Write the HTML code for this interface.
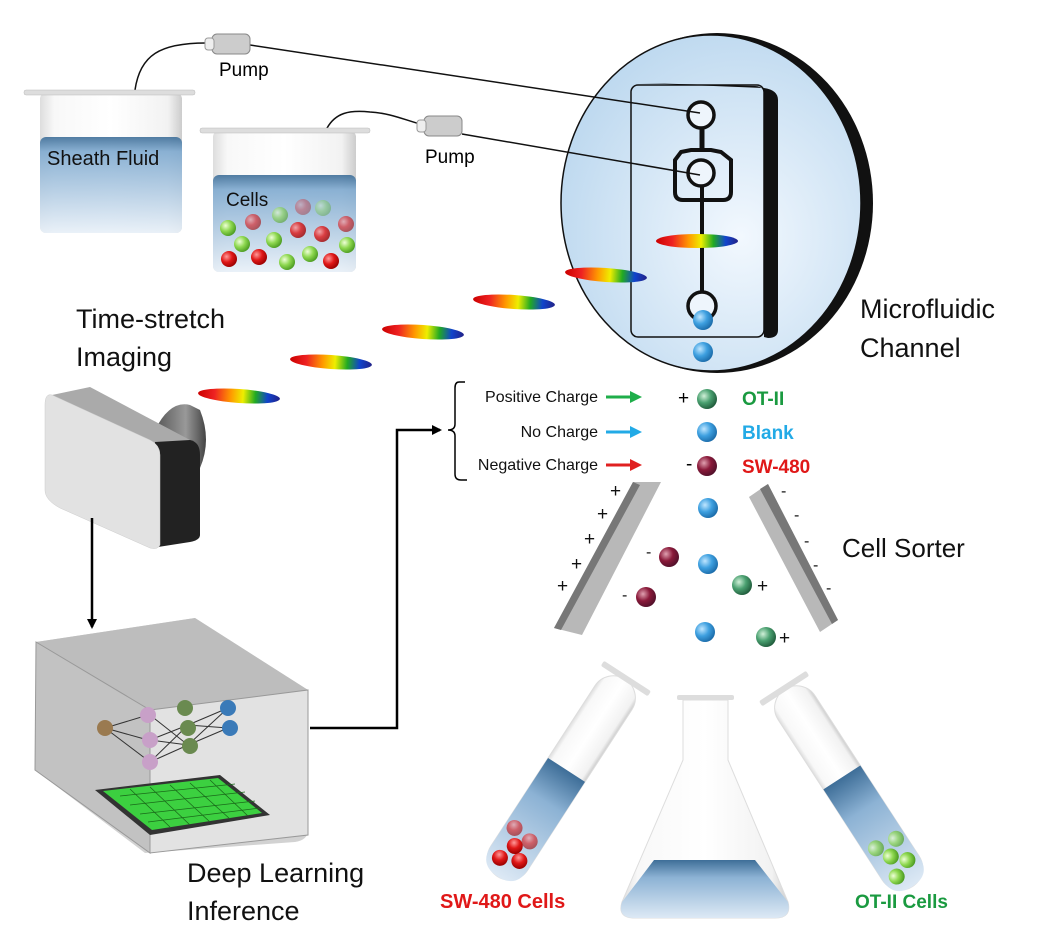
<!DOCTYPE html>
<html><head><meta charset="utf-8"><style>
html,body{margin:0;padding:0;background:#fff;}
svg{display:block;font-family:"Liberation Sans",sans-serif;}
</style></head><body>
<svg width="1058" height="950" viewBox="0 0 1058 950" xmlns="http://www.w3.org/2000/svg">
<defs>
<linearGradient id="liq" x1="0" y1="0" x2="0" y2="1"><stop offset="0" stop-color="#3e6e98"/><stop offset="0.15" stop-color="#7ea9cf"/><stop offset="1" stop-color="#e8f0f8"/></linearGradient>
<linearGradient id="glass" x1="0" y1="0" x2="1" y2="0"><stop offset="0" stop-color="#ddd"/><stop offset="0.1" stop-color="#f8f8f8"/><stop offset="0.5" stop-color="#fff"/><stop offset="0.9" stop-color="#f2f2f2"/><stop offset="1" stop-color="#ccc"/></linearGradient>
<linearGradient id="rain" x1="0" y1="0" x2="1" y2="0"><stop offset="0" stop-color="#c00"/><stop offset="0.2" stop-color="#e22"/><stop offset="0.4" stop-color="#f90"/><stop offset="0.55" stop-color="#ee0"/><stop offset="0.7" stop-color="#2a2"/><stop offset="0.85" stop-color="#14c"/><stop offset="1" stop-color="#228"/></linearGradient>
<radialGradient id="circ" cx="0.6" cy="0.6" r="0.7"><stop offset="0" stop-color="#f2f8fe"/><stop offset="1" stop-color="#b9d6ee"/></radialGradient>
<radialGradient id="bb" cx="0.35" cy="0.35" r="0.7"><stop offset="0" stop-color="#bfe6ff"/><stop offset="0.5" stop-color="#3ea0e0"/><stop offset="1" stop-color="#1a6aa8"/></radialGradient>
<radialGradient id="rb" cx="0.35" cy="0.35" r="0.7"><stop offset="0" stop-color="#e0a0b0"/><stop offset="0.5" stop-color="#8a1a3a"/><stop offset="1" stop-color="#50102a"/></radialGradient>
<radialGradient id="gb" cx="0.35" cy="0.35" r="0.7"><stop offset="0" stop-color="#d0f0d8"/><stop offset="0.5" stop-color="#4aa070"/><stop offset="1" stop-color="#1f5a3a"/></radialGradient>
<radialGradient id="red" cx="0.35" cy="0.35" r="0.7"><stop offset="0" stop-color="#ff9a9a"/><stop offset="0.5" stop-color="#e01818"/><stop offset="1" stop-color="#900"/></radialGradient>
<radialGradient id="grn" cx="0.35" cy="0.35" r="0.7"><stop offset="0" stop-color="#efffd8"/><stop offset="0.5" stop-color="#8ed850"/><stop offset="1" stop-color="#4a9a20"/></radialGradient>
<linearGradient id="cam" x1="0" y1="0" x2="1" y2="0"><stop offset="0" stop-color="#555"/><stop offset="0.6" stop-color="#999"/><stop offset="1" stop-color="#444"/></linearGradient>
<linearGradient id="tubeliq" x1="0" y1="0" x2="0" y2="1"><stop offset="0" stop-color="#3e6e98"/><stop offset="0.3" stop-color="#8cb2d4"/><stop offset="1" stop-color="#dde9f5"/></linearGradient>
<marker id="ah" markerWidth="10" markerHeight="10" refX="8" refY="5" orient="auto" markerUnits="userSpaceOnUse"><path d="M0,0 L10,5 L0,10 z" fill="#000"/></marker>
</defs>

<!-- big circle -->
<ellipse cx="717" cy="203" rx="156" ry="170" fill="#111"/>
<ellipse cx="711" cy="203" rx="150" ry="168" fill="url(#circ)" stroke="#111" stroke-width="1.5"/>
<!-- chip -->
<path d="M640,83 L764,88 Q778,90 778,100 L778,330 Q778,338 768,338 L764,337 L764,95 Q764,86 755,86 Z" fill="#111"/>
<rect x="631" y="85" width="133" height="252" rx="7" fill="none" stroke="#111" stroke-width="1.5"/>
<path d="M681,152 L691,150 L711,150 L721,152 L731,160 L731,192 Q731,200 723,200 L683,200 Q675,200 675,192 L675,160 Z" fill="none" stroke="#111" stroke-width="4"/>
<line x1="702" y1="128" x2="702" y2="152" stroke="#111" stroke-width="5"/>
<line x1="702" y1="186" x2="702" y2="295" stroke="#111" stroke-width="4"/>
<circle cx="701" cy="115" r="13" fill="#eef5fc" stroke="#111" stroke-width="3.5"/>
<circle cx="701" cy="173" r="13" fill="#eef5fc" stroke="#111" stroke-width="3.5"/>
<circle cx="702" cy="306" r="14" fill="#eef5fc" stroke="#111" stroke-width="3.5"/>
<circle cx="703" cy="320" r="10" fill="url(#bb)"/>
<circle cx="703" cy="352" r="10" fill="url(#bb)"/>
<text x="860" y="318" font-size="27" fill="#111">Microfluidic</text>
<text x="860" y="357" font-size="27" fill="#111">Channel</text>

<!-- tubing -->
<path d="M135,90 C140,55 160,43 206,43" stroke="#111" stroke-width="1.5" fill="none"/>
<path d="M250,45 L700,113" stroke="#111" stroke-width="1.5" fill="none"/>
<path d="M326,130 C335,112 350,110 370,112 C390,113 405,120 420,124" stroke="#111" stroke-width="1.5" fill="none"/>
<path d="M462,134 L700,175" stroke="#111" stroke-width="1.5" fill="none"/>
<!-- pumps -->
<g><rect x="212" y="34" width="38" height="20" rx="5" fill="#ccc" stroke="#888"/><rect x="205" y="38" width="9" height="12" rx="3" fill="#eee" stroke="#999"/></g>
<text x="219" y="76" font-size="19">Pump</text>
<g><rect x="424" y="116" width="38" height="20" rx="5" fill="#ccc" stroke="#888"/><rect x="417" y="120" width="9" height="12" rx="3" fill="#eee" stroke="#999"/></g>
<text x="425" y="163" font-size="19">Pump</text>

<!-- sheath beaker -->
<rect x="40" y="93" width="142" height="140" rx="6" fill="url(#glass)"/>
<rect x="40" y="137" width="142" height="96" rx="6" fill="url(#liq)" opacity="0.9"/>
<rect x="24" y="90" width="171" height="5" rx="2" fill="#ddd" stroke="#bbb" stroke-width="0.5"/>
<text x="47" y="165" font-size="20" fill="#111">Sheath Fluid</text>
<!-- cells beaker -->
<rect x="213" y="131" width="143" height="141" rx="6" fill="url(#glass)"/>
<rect x="213" y="175" width="143" height="97" rx="6" fill="url(#liq)" opacity="0.9"/>
<rect x="200" y="128" width="170" height="5" rx="2" fill="#ddd" stroke="#bbb" stroke-width="0.5"/>
<text x="226" y="206" font-size="19" fill="#111">Cells</text>
<g>
<circle cx="303" cy="207" r="8" fill="url(#red)" opacity="0.35"/><circle cx="323" cy="208" r="8" fill="url(#grn)" opacity="0.4"/>
<circle cx="228" cy="228" r="8" fill="url(#grn)"/><circle cx="253" cy="222" r="8" fill="url(#red)" opacity="0.6"/><circle cx="280" cy="215" r="8" fill="url(#grn)" opacity="0.6"/>
<circle cx="298" cy="230" r="8" fill="url(#red)" opacity="0.8"/><circle cx="322" cy="234" r="8" fill="url(#red)" opacity="0.8"/><circle cx="346" cy="224" r="8" fill="url(#red)" opacity="0.6"/>
<circle cx="242" cy="244" r="8" fill="url(#grn)"/><circle cx="274" cy="240" r="8" fill="url(#grn)"/><circle cx="347" cy="245" r="8" fill="url(#grn)"/>
<circle cx="229" cy="259" r="8" fill="url(#red)"/><circle cx="259" cy="257" r="8" fill="url(#red)"/><circle cx="287" cy="262" r="8" fill="url(#grn)"/><circle cx="310" cy="254" r="8" fill="url(#grn)"/><circle cx="331" cy="261" r="8" fill="url(#red)"/>
</g>

<!-- rainbow pulses -->
<g fill="url(#rain)">
<ellipse cx="697" cy="241" rx="41" ry="7"/>
<ellipse cx="606" cy="275" rx="41" ry="7" transform="rotate(4 606 275)"/>
<ellipse cx="514" cy="302" rx="41" ry="7" transform="rotate(4 514 302)"/>
<ellipse cx="423" cy="332" rx="41" ry="7" transform="rotate(4 423 332)"/>
<ellipse cx="331" cy="362" rx="41" ry="7" transform="rotate(4 331 362)"/>
<ellipse cx="239" cy="396" rx="41" ry="7" transform="rotate(4 239 396)"/>
</g>

<!-- camera -->
<text x="76" y="328" font-size="27" fill="#111">Time-stretch</text>
<text x="76" y="366" font-size="27" fill="#111">Imaging</text>
<path d="M155,430 Q170,400 190,405 L200,410 Q212,440 200,468 L185,470 Z" fill="url(#cam)"/>
<path d="M52,395 L90,387 L190,440 L160,448 Z" fill="#aaa"/>
<path d="M155,442 L190,440 Q200,442 200,455 L200,535 Q200,540 190,542 L158,547 Z" fill="#222"/>
<path d="M52,395 L150,440 Q160,445 160,455 L160,545 Q158,550 150,548 L60,508 Q45,500 45,490 L45,405 Q45,393 52,395 Z" fill="#e2e2e2" stroke="#ccc" stroke-width="0.5"/>
<line x1="92" y1="518" x2="92" y2="627" stroke="#000" stroke-width="2.5" marker-end="url(#ah)"/>

<!-- DL box -->
<path d="M36,642 L195,618 L308,690 L308,830 Q308,840 295,842 L145,853 L35,770 Z" fill="#d2d2d2"/>
<path d="M36,642 L195,618 L308,690 L150,710 Z" fill="#bdbdbd"/>
<path d="M150,710 L308,690 L308,835 L150,853 Z" fill="#e2e2e2" stroke="#999" stroke-width="1"/>
<path d="M36,642 L150,710 L150,853 L35,770 Z" fill="#c2c2c2" stroke="#999" stroke-width="1"/>
<path d="M95,790 L220,775 L270,815 L150,835 Z" fill="#333"/>
<path d="M103,791 L218,778 L262,813 L152,830 Z" fill="#3cd040"/>
<g stroke="#1a6a1a" stroke-width="0.8">
<line x1="120" y1="796" x2="235" y2="784"/><line x1="130" y1="805" x2="245" y2="792"/><line x1="140" y1="814" x2="255" y2="801"/><line x1="148" y1="822" x2="260" y2="808"/>
<line x1="130" y1="789" x2="170" y2="827"/><line x1="150" y1="787" x2="190" y2="825"/><line x1="170" y1="785" x2="210" y2="822"/><line x1="190" y1="783" x2="230" y2="819"/><line x1="210" y1="780" x2="248" y2="816"/>
</g>
<g stroke="#333" stroke-width="1">
<line x1="105" y1="728" x2="148" y2="715"/><line x1="105" y1="728" x2="148" y2="740"/><line x1="105" y1="728" x2="150" y2="762"/>
<line x1="150" y1="740" x2="188" y2="725"/><line x1="150" y1="740" x2="188" y2="745"/><line x1="150" y1="715" x2="188" y2="745"/><line x1="150" y1="762" x2="188" y2="725"/><line x1="150" y1="762" x2="188" y2="745"/>
<line x1="188" y1="725" x2="228" y2="708"/><line x1="188" y1="745" x2="228" y2="728"/><line x1="188" y1="725" x2="228" y2="728"/><line x1="188" y1="745" x2="228" y2="708"/>
</g>
<circle cx="105" cy="728" r="8" fill="#9a7a50"/>
<circle cx="148" cy="715" r="8" fill="#c8a0c8"/><circle cx="150" cy="740" r="8" fill="#c8a0c8"/><circle cx="150" cy="762" r="8" fill="#c8a0c8"/>
<circle cx="185" cy="708" r="8" fill="#6a8a50"/><circle cx="188" cy="728" r="8" fill="#6a8a50"/><circle cx="190" cy="746" r="8" fill="#6a8a50"/>
<circle cx="228" cy="708" r="8" fill="#3a7ab8"/><circle cx="230" cy="728" r="8" fill="#3a7ab8"/>
<text x="187" y="882" font-size="27" fill="#111">Deep Learning</text>
<text x="187" y="920" font-size="27" fill="#111">Inference</text>
<path d="M310,728 L397,728 L397,430 L440,430" stroke="#000" stroke-width="2.5" fill="none" marker-end="url(#ah)"/>

<!-- brace -->
<path d="M465,382 L459,382 Q455,382 455,388 L455,424 Q455,430 448,430 Q455,430 455,436 L455,474 Q455,480 461,480 L467,480" stroke="#000" stroke-width="1.5" fill="none"/>
<g font-size="16" fill="#111" text-anchor="end">
<text x="598" y="402">Positive Charge</text>
<text x="598" y="437">No Charge</text>
<text x="598" y="470">Negative Charge</text>
</g>
<g stroke-width="3">
<line x1="606" y1="397" x2="632" y2="397" stroke="#1fae4a"/><path d="M630,391 L642,397 L630,403 z" fill="#1fae4a"/>
<line x1="606" y1="432" x2="632" y2="432" stroke="#22aae6"/><path d="M630,426 L642,432 L630,438 z" fill="#22aae6"/>
<line x1="606" y1="465" x2="632" y2="465" stroke="#e02020"/><path d="M630,459 L642,465 L630,471 z" fill="#e02020"/>
</g>
<text x="678" y="404" font-size="19">+</text>
<text x="686" y="470" font-size="19">-</text>
<circle cx="707" cy="399" r="10" fill="url(#gb)"/>
<circle cx="707" cy="432" r="10" fill="url(#bb)"/>
<circle cx="707" cy="466" r="10" fill="url(#rb)"/>
<g font-size="19" font-weight="bold">
<text x="742" y="405" fill="#1a9a40">OT-II</text>
<text x="742" y="439" fill="#22aae6">Blank</text>
<text x="742" y="473" fill="#e01818">SW-480</text>
</g>

<!-- sorter plates -->
<path d="M633,482 L661,482 L582,635 L554,628 Z" fill="#b8b8b8"/>
<path d="M633,482 L640,485 L561,630 L554,628 Z" fill="#777"/>
<path d="M749,497 L768,484 L838,620 L820,632 Z" fill="#b8b8b8"/>
<path d="M760,489 L768,484 L838,620 L832,624 Z" fill="#777"/>
<g font-size="19" fill="#111">
<text x="610" y="497">+</text><text x="597" y="520">+</text><text x="584" y="545">+</text><text x="571" y="570">+</text><text x="557" y="592">+</text>
</g>
<g font-size="16" fill="#111">
<text x="781" y="496">-</text><text x="794" y="520">-</text><text x="804" y="546">-</text><text x="813" y="570">-</text><text x="826" y="593">-</text>
<text x="646" y="557">-</text><text x="622" y="600">-</text>
</g>
<g font-size="19" fill="#111"><text x="757" y="592">+</text><text x="779" y="644">+</text></g>
<circle cx="708" cy="508" r="10" fill="url(#bb)"/>
<circle cx="708" cy="564" r="10" fill="url(#bb)"/>
<circle cx="705" cy="632" r="10" fill="url(#bb)"/>
<circle cx="669" cy="557" r="10" fill="url(#rb)"/>
<circle cx="646" cy="597" r="10" fill="url(#rb)"/>
<circle cx="742" cy="585" r="10" fill="url(#gb)"/>
<circle cx="766" cy="637" r="10" fill="url(#gb)"/>
<text x="842" y="557" font-size="26" fill="#111">Cell Sorter</text>

<!-- left tube -->
<g transform="rotate(33 560 780)">
<rect x="538" y="660" width="44" height="235" rx="22" fill="url(#glass)" stroke="#ddd"/>
<path d="M538,768 L582,768 L582,873 Q582,895 560,895 Q538,895 538,873 Z" fill="url(#tubeliq)"/>
<rect x="532" y="656" width="56" height="6" rx="2" fill="#ddd"/>
<circle cx="552" cy="878" r="8" fill="url(#red)"/><circle cx="570" cy="870" r="8" fill="url(#red)"/><circle cx="558" cy="860" r="8" fill="url(#red)"/><circle cx="548" cy="845" r="8" fill="url(#red)" opacity="0.6"/><circle cx="568" cy="848" r="8" fill="url(#red)" opacity="0.6"/>
</g>
<!-- right tube -->
<g transform="rotate(-33 850 790)">
<rect x="828" y="670" width="44" height="235" rx="22" fill="url(#glass)" stroke="#ddd"/>
<path d="M828,775 L872,775 L872,883 Q872,905 850,905 Q828,905 828,883 Z" fill="url(#tubeliq)"/>
<rect x="822" y="666" width="56" height="6" rx="2" fill="#ddd"/>
<circle cx="842" cy="888" r="8" fill="url(#grn)"/><circle cx="860" cy="880" r="8" fill="url(#grn)"/><circle cx="848" cy="868" r="8" fill="url(#grn)"/><circle cx="840" cy="853" r="8" fill="url(#grn)" opacity="0.7"/><circle cx="862" cy="856" r="8" fill="url(#grn)" opacity="0.7"/>
</g>
<!-- flask -->
<path d="M683,700 L728,700 L728,760 L788,902 Q792,918 775,918 L635,918 Q617,918 622,902 L683,760 Z" fill="url(#glass)" stroke="#ddd"/>
<path d="M654,860 L755,860 L788,902 Q792,918 775,918 L635,918 Q617,918 622,902 Z" fill="url(#tubeliq)"/>
<rect x="677" y="695" width="57" height="5" rx="2" fill="#ddd"/>

<text x="440" y="908" font-size="20" font-weight="bold" fill="#e01818">SW-480 Cells</text>
<text x="855" y="908" font-size="19" font-weight="bold" fill="#1a9a40">OT-II Cells</text>
</svg>
</body></html>
